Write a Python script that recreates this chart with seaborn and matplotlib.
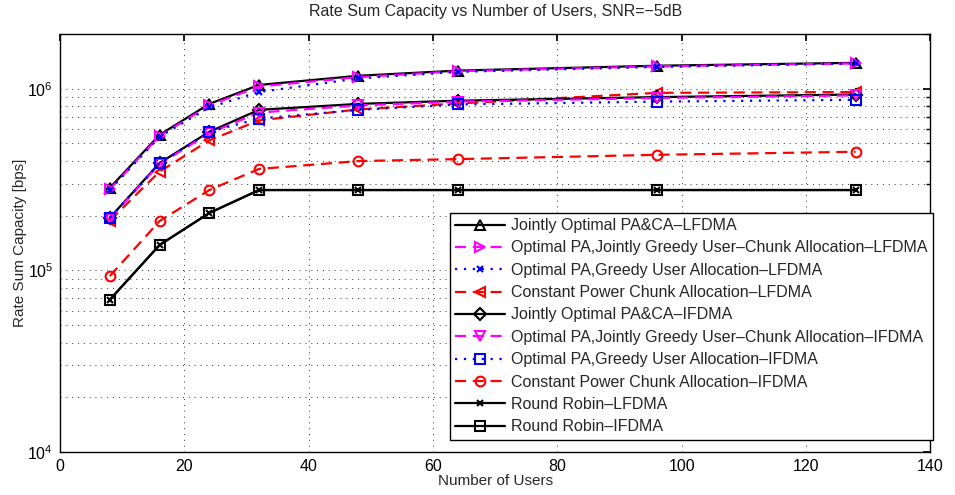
import pandas as pd
import seaborn as sns
import matplotlib.pyplot as plt
from matplotlib.ticker import LogLocator, NullFormatter

# Data
users = [8, 16, 24, 32, 48, 64, 96, 128]

jo_lfdma = [2.85e5, 5.58e5, 8.26e5, 1.05e6, 1.18e6, 1.26e6, 1.34e6, 1.39e6]
greedy_uc_lfdma = [2.80e5, 5.50e5, 8.10e5, 1.03e6, 1.16e6, 1.25e6, 1.33e6, 1.38e6]
greedy_u_lfdma = [2.78e5, 5.45e5, 7.90e5, 9.60e5, 1.14e6, 1.24e6, 1.32e6, 1.38e6]
const_lfdma = [1.88e5, 3.50e5, 5.20e5, 6.70e5, 7.70e5, 8.30e5, 9.50e5, 9.60e5]
jo_ifdma = [1.95e5, 3.90e5, 5.80e5, 7.66e5, 8.26e5, 8.60e5, 9.00e5, 9.30e5]
greedy_uc_ifdma = [1.93e5, 3.85e5, 5.70e5, 7.40e5, 8.10e5, 8.50e5, 8.90e5, 9.20e5]
greedy_u_ifdma = [1.95e5, 3.90e5, 5.80e5, 6.85e5, 7.66e5, 8.20e5, 8.50e5, 8.70e5]
const_ifdma = [9.3e4, 1.87e5, 2.77e5, 3.62e5, 4.00e5, 4.10e5, 4.33e5, 4.50e5]
rr_lfdma = [6.9e4, 1.38e5, 2.07e5, 2.77e5, 2.77e5, 2.77e5, 2.77e5, 2.77e5]
rr_ifdma = [6.9e4, 1.38e5, 2.07e5, 2.77e5, 2.77e5, 2.77e5, 2.77e5, 2.77e5]

labels = [
    "Jointly Optimal PA&CA\u2013LFDMA",
    "Optimal PA,Jointly Greedy User\u2013Chunk Allocation\u2013LFDMA",
    "Optimal PA,Greedy User Allocation\u2013LFDMA",
    "Constant Power Chunk Allocation\u2013LFDMA",
    "Jointly Optimal PA&CA\u2013IFDMA",
    "Optimal PA,Jointly Greedy User\u2013Chunk Allocation\u2013IFDMA",
    "Optimal PA,Greedy User Allocation\u2013IFDMA",
    "Constant Power Chunk Allocation\u2013IFDMA",
    "Round Robin\u2013LFDMA",
    "Round Robin\u2013IFDMA",
]
series = [jo_lfdma, greedy_uc_lfdma, greedy_u_lfdma, const_lfdma, jo_ifdma,
          greedy_uc_ifdma, greedy_u_ifdma, const_ifdma, rr_lfdma, rr_ifdma]

# styling per series: colour, linestyle, marker
styles = [
    ("black", "-", "^"),
    ("magenta", (0, (5, 3)), ">"),
    ("blue", (0, (1, 3)), "x"),
    ("red", (0, (5, 3)), "<"),
    ("black", "-", "D"),
    ("magenta", (0, (5, 3)), "v"),
    ("blue", (0, (1, 3)), "s"),
    ("red", (0, (5, 3)), "o"),
    ("black", "-", "x"),
    ("black", "-", "s"),
]

df = pd.DataFrame({
    "users": users * len(series),
    "capacity": [v for s in series for v in s],
    "label": [lab for lab in labels for _ in users],
})

sns.set_theme(style="white")
plt.rcParams['font.family'] = ['Liberation Sans', 'DejaVu Sans']

fig, ax = plt.subplots(figsize=(9.55, 4.95), dpi=100)
fig.subplots_adjust(left=0.063, right=0.974, bottom=0.087, top=0.931)

for lab, (col, ls, mk) in zip(labels, styles):
    sub = df[df["label"] == lab]
    ms = {"D": 6, "x": 5}.get(mk, 7)
    sns.lineplot(data=sub, x="users", y="capacity", ax=ax, color=col,
                 linestyle=ls, linewidth=1.6, marker=mk, markersize=ms,
                 markerfacecolor="none", markeredgecolor=col,
                 markeredgewidth=1.5, label=lab, legend=False)

ax.set_yscale("log")
ax.set_xlim(0, 140)
ax.set_ylim(1e4, 2e6)
ax.set_xticks(range(0, 141, 20))
ax.yaxis.set_major_locator(LogLocator(base=10, numticks=10))
ax.yaxis.set_minor_locator(LogLocator(base=10, subs=range(2, 10), numticks=20))
ax.yaxis.set_minor_formatter(NullFormatter())

ax.grid(True, which="major", axis="both", color="#333333", linestyle=(0, (1, 5)), linewidth=0.7)
ax.grid(True, which="minor", axis="y", color="#333333", linestyle=(0, (1, 5)), linewidth=0.7)

for sp in ax.spines.values():
    sp.set_color("black")
    sp.set_linewidth(1.0)
ax.tick_params(which="both", direction="in", top=True, right=True, colors="black",
               labelsize=11.5, pad=5)
ax.tick_params(which="major", length=5)
ax.tick_params(which="minor", length=3)

ax.set_xlabel("Number of Users", fontsize=11, labelpad=0)
ax.set_ylabel("Rate Sum Capacity [bps]", fontsize=11, labelpad=0)
ax.set_title("Rate Sum Capacity vs Number of Users, SNR=\u22125dB", fontsize=11.5, pad=13)

leg = ax.legend(loc="lower right", bbox_to_anchor=(1.0035, 0.029), borderaxespad=0,
                fontsize=11.5, frameon=True, fancybox=False,
                framealpha=1, edgecolor="black",
                handlelength=3.1, handletextpad=0.4, labelspacing=0.46,
                borderpad=0.35)
leg.get_frame().set_linewidth(1.0)

fig.savefig("out.png", dpi=100)
